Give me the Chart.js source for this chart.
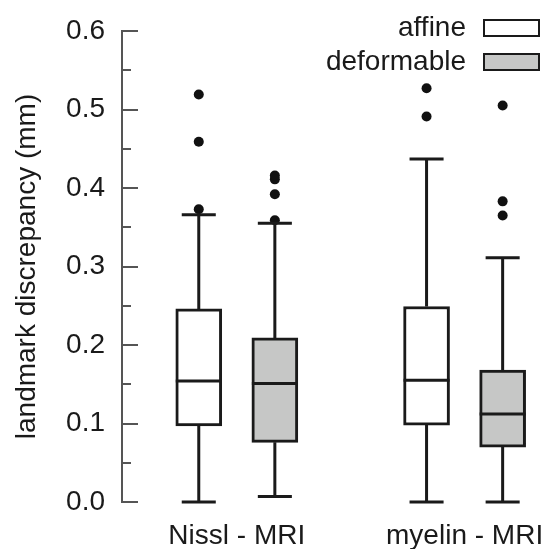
<!DOCTYPE html>
<html lang="en">
<head>
<meta charset="UTF-8" />
<title>Landmark discrepancy</title>
<script src="https://cdn.jsdelivr.net/npm/chart.js"></script>
<style>
  html, body { margin: 0; padding: 0; background: #fff; }
  #wrap { width: 545px; height: 549px; }
</style>
</head>
<body>
<div id="wrap"><canvas id="chart"></canvas></div>
<script>
  // categories
  const groups = ["Nissl - MRI", "myelin - MRI"];
  const methods = ["affine", "deformable"];
  const groupPos = [1, 2];
  const boxOffset = 0.167;

  // affine boxes (one entry per group)
  const affineMin = [0.0, 0.0];
  const affineQ1 = [0.097, 0.098];
  const affineMedian = [0.154, 0.155];
  const affineQ3 = [0.246, 0.249];
  const affineMax = [0.366, 0.437];
  const affineOutliers = [[0.373, 0.459, 0.519], [0.491, 0.527]];

  // deformable boxes
  const deformMin = [0.007, 0.0];
  const deformQ1 = [0.076, 0.070];
  const deformMedian = [0.151, 0.112];
  const deformQ3 = [0.209, 0.168];
  const deformMax = [0.355, 0.311];
  const deformOutliers = [[0.359, 0.392, 0.411, 0.416], [0.365, 0.383, 0.505]];

  const yTickStep = 0.05;

  const ink = "#1a1a1a";
  const axisGray = "#555555";
  const fills = ["#ffffff", "#c6c7c6"];

  Chart.defaults.font.family = "'Liberation Sans', Arial, sans-serif";
  Chart.defaults.color = ink;

  const boxSets = [
    { min: affineMin, q1: affineQ1, med: affineMedian, q3: affineQ3, max: affineMax, out: affineOutliers, dx: -boxOffset },
    { min: deformMin, q1: deformQ1, med: deformMedian, q3: deformQ3, max: deformMax, out: deformOutliers, dx: boxOffset },
  ];

  const datasets = boxSets.map((s, k) => ({
    type: "bar",
    label: methods[k],
    data: groups.map((g, i) => ({ x: groupPos[i] + s.dx, y: [s.q1[i], s.q3[i]] })),
    backgroundColor: fills[k],
    borderColor: ink,
    borderWidth: 3,
    borderSkipped: false,
    barThickness: 46,
    grouped: false,
    order: 2,
  }));

  const outlierPoints = [];
  boxSets.forEach((s) => {
    s.out.forEach((vals, i) => {
      vals.forEach((v) => outlierPoints.push({ x: groupPos[i] + s.dx, y: v }));
    });
  });
  datasets.push({
    type: "scatter",
    label: "outliers",
    data: outlierPoints,
    pointRadius: 5,
    pointBackgroundColor: "#111",
    pointBorderWidth: 0,
    order: 1,
  });

  // whiskers, caps, medians, inward y ticks, legend
  const boxExtras = {
    id: "boxExtras",
    afterDatasetsDraw(chart) {
      const ctx = chart.ctx;
      const y = chart.scales.y;
      ctx.save();
      ctx.strokeStyle = ink;
      ctx.lineWidth = 3;
      boxSets.forEach((s, k) => {
        const meta = chart.getDatasetMeta(k);
        meta.data.forEach((bar, i) => {
          const half = bar.width / 2;
          const cap = half * 0.74;
          const yMin = y.getPixelForValue(s.min[i]);
          const yQ1 = y.getPixelForValue(s.q1[i]);
          const yQ3 = y.getPixelForValue(s.q3[i]);
          const yMax = y.getPixelForValue(s.max[i]);
          const yMed = y.getPixelForValue(s.med[i]);
          ctx.beginPath();
          ctx.moveTo(bar.x, yQ1); ctx.lineTo(bar.x, yMin);
          ctx.moveTo(bar.x - cap, yMin); ctx.lineTo(bar.x + cap, yMin);
          ctx.moveTo(bar.x, yQ3); ctx.lineTo(bar.x, yMax);
          ctx.moveTo(bar.x - cap, yMax); ctx.lineTo(bar.x + cap, yMax);
          ctx.moveTo(bar.x - half, yMed); ctx.lineTo(bar.x + half, yMed);
          ctx.stroke();
        });
      });
      ctx.restore();
    },
    afterDraw(chart) {
      const ctx = chart.ctx;
      const y = chart.scales.y;
      const left = chart.chartArea.left;
      ctx.save();
      ctx.strokeStyle = axisGray;
      ctx.lineWidth = 2;
      ctx.beginPath();
      y.ticks.forEach((t, i) => {
        const py = Math.round(y.getPixelForValue(t.value));
        const len = i % 2 === 0 ? 16 : 9;
        ctx.moveTo(left, py); ctx.lineTo(left + len, py);
      });
      ctx.stroke();

      // legend: text on the left, swatch on the right
      ctx.font = "28px 'Liberation Sans', Arial, sans-serif";
      ctx.textAlign = "right";
      ctx.textBaseline = "middle";
      const rows = [28, 62];
      methods.forEach((m, k) => {
        const cy = rows[k];
        ctx.fillStyle = ink;
        ctx.fillText(m, 466, cy);
        ctx.fillStyle = chart.data.datasets[k].backgroundColor;
        ctx.fillRect(484, cy - 8, 55, 16);
        ctx.strokeStyle = ink;
        ctx.lineWidth = 2;
        ctx.strokeRect(484, cy - 8, 55, 16);
      });
      ctx.restore();
    },
  };

  new Chart(document.getElementById("chart"), {
    data: { datasets },
    options: {
      responsive: true,
      maintainAspectRatio: false,
      animation: false,
      layout: { padding: { top: 31, right: 0, bottom: 0, left: 0 } },
      plugins: { legend: { display: false }, tooltip: { enabled: false } },
      scales: {
        x: {
          type: "linear",
          offset: false,
          min: 0.496,
          max: 2.331,
          grid: { display: false, drawTicks: false, offset: false },
          border: { display: false },
          afterBuildTicks: (s) => { s.ticks = groupPos.map((v) => ({ value: v })); },
          ticks: {
            padding: 17,
            font: { size: 28 },
            color: ink,
            callback: (v) => groups[groupPos.indexOf(v)] || "",
          },
          afterFit: (s) => {
            s.height = 47;
            s.paddingLeft = 0;
            s.paddingRight = 0;
          },
        },
        y: {
          min: 0,
          max: 0.6,
          grid: { display: false, drawTicks: false },
          border: { display: true, color: axisGray, width: 2 },
          ticks: {
            stepSize: yTickStep,
            padding: 17,
            font: { size: 28 },
            color: ink,
            callback: (v, i) => (i % 2 === 0 ? v.toFixed(1) : ""),
          },
          title: {
            display: true,
            text: "landmark discrepancy (mm)",
            font: { size: 28 },
            color: ink,
            padding: { top: 10, bottom: 0 },
          },
          afterFit: (s) => {
            s.width = 122;
            s.paddingTop = 0;
            s.paddingBottom = 0;
          },
        },
      },
    },
    plugins: [boxExtras],
  });
</script>
</body>
</html>
